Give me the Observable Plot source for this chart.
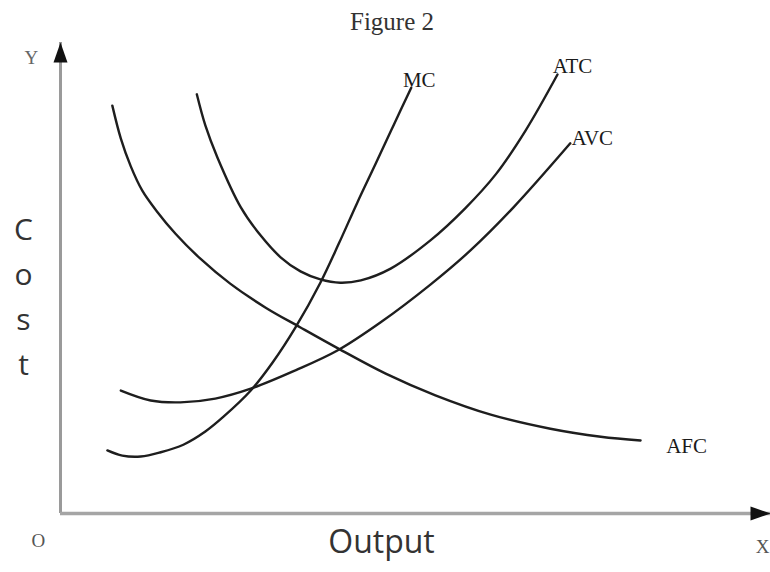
<!DOCTYPE html>
<html><head><meta charset="utf-8">
<script src="https://cdn.jsdelivr.net/npm/d3@7"></script>
<script src="https://cdn.jsdelivr.net/npm/@observablehq/plot@0.6"></script>
<style>
body{margin:0;background:#fff;}
#title{width:756px;height:32px;padding-top:4px;padding-left:14px;line-height:36px;text-align:center;font-family:'Liberation Serif','DejaVu Serif',serif;font-size:25px;color:#333;}
</style></head><body>
<div id="title">Figure 2</div>
<div id="chart"></div>
<script>
// Cost curves (output on x, cost on y)
const seriesNames = ["MC", "ATC", "AVC", "AFC"];
const mcX  = [6.6, 8.7, 11.3, 14.1, 17.3, 20.4, 23.0, 26.8, 29.9, 33.1, 36.6, 39.2, 41.8, 44.4, 46.9, 49.4];
const mcY  = [13.4, 12.3, 12.1, 13.0, 14.6, 17.4, 20.6, 26.1, 32.1, 39.5, 49.0, 57.3, 66.0, 74.3, 82.4, 90.4];
const atcX = [19.2, 20.4, 22.1, 25.4, 28.2, 31.0, 33.8, 36.6, 39.4, 42.3, 46.5, 52.1, 57.0, 61.3, 65.5, 70.0];
const atcY = [89.0, 82.4, 75.6, 65.0, 59.0, 54.4, 51.4, 49.7, 49.0, 49.5, 52.0, 58.0, 64.8, 72.0, 81.3, 93.2];
const avcX = [8.5, 12.7, 16.9, 21.8, 26.8, 33.1, 39.0, 45.1, 52.1, 57.7, 63.8, 71.8];
const avcY = [26.1, 24.0, 23.6, 24.4, 26.5, 30.4, 34.6, 40.6, 48.6, 55.8, 65.0, 78.6];
const afcX = [7.3, 8.5, 9.9, 11.5, 13.5, 16.2, 19.7, 23.9, 28.9, 33.8, 39.4, 45.8, 52.8, 60.6, 69.0, 76.1, 81.7];
const afcY = [86.6, 79.6, 73.7, 68.6, 64.3, 59.4, 54.1, 48.8, 43.7, 39.5, 34.8, 29.7, 25.1, 21.0, 18.0, 16.3, 15.5];
const axisLabels = {y: "Y", x: "X", origin: "O", xTitle: "Output", yTitle: "Cost"};

const seriesX = [mcX, atcX, avcX, afcX];
const seriesY = [mcY, atcY, avcY, afcY];
const curves = seriesNames.flatMap((name, i) =>
  seriesX[i].map((x, j) => ({name, x, y: seriesY[i][j]})));

const serif = "'Liberation Serif','DejaVu Serif',serif";
const sans = "'Open Sans','Noto Sans',sans-serif";

// filled arrow head, tip at the point, pointing up
const arrowHead = {
  draw(context) {
    context.moveTo(0, 0);
    context.lineTo(-7, 20);
    context.lineTo(7, 20);
    context.closePath();
  }
};

const labelOffsets = {MC: [8, -7], ATC: [15, -8], AVC: [22, -5], AFC: [46, 6]};

const chart = Plot.plot({
  width: 770,
  height: 536,
  marginLeft: 60,
  marginRight: 0,
  marginTop: 6,
  marginBottom: 59,
  x: {axis: null, domain: [0, 100]},
  y: {axis: null, domain: [0, 100]},
  style: {background: "white", overflow: "visible"},
  marks: [
    Plot.ruleX([0], {y1: 0, y2: 100, stroke: "#9a9a9a", strokeWidth: 3}),
    Plot.ruleY([0], {x1: 0, x2: 100, stroke: "#a5a5a5", strokeWidth: 3.5}),
    Plot.dot([{x: 0, y: 100}], {x: "x", y: "y", symbol: arrowHead, r: 5, fill: "#111", stroke: null}),
    Plot.dot([{x: 100, y: 0}], {x: "x", y: "y", symbol: arrowHead, r: 5, fill: "#111", stroke: null, rotate: 90}),
    Plot.line(curves, {x: "x", y: "y", z: "name", curve: "catmull-rom", stroke: "#1e1e1e", strokeWidth: 2.4}),
    ...seriesNames.map(name =>
      Plot.text(curves.filter(d => d.name === name), Plot.selectLast({
        x: "x", y: "y", text: "name",
        dx: labelOffsets[name][0], dy: labelOffsets[name][1],
        fontFamily: serif, fontSize: 21, fill: "#1a1a1a"
      }))),
    Plot.text([axisLabels.y], {frameAnchor: "top-left", text: d => d, dx: -36, dy: 8,
      fontFamily: serif, fontSize: 19, fill: "#666"}),
    Plot.text([axisLabels.origin], {frameAnchor: "bottom-left", text: d => d, dx: -29, dy: 33,
      fontFamily: serif, fontSize: 19, fill: "#555"}),
    Plot.text([axisLabels.x], {frameAnchor: "bottom-right", text: d => d, dx: -1, dy: 39, textAnchor: "end",
      fontFamily: serif, fontSize: 19, fill: "#555"}),
    Plot.text([axisLabels.xTitle], {frameAnchor: "bottom", text: d => d, dx: -34, dy: 39,
      fontFamily: sans, fontSize: 32, fill: "#333"}),
    Plot.text([axisLabels.yTitle], {frameAnchor: "left", text: d => d.split("").join("\n"),
      dx: -37, dy: 15, lineHeight: 1.5, textAnchor: "middle",
      fontFamily: sans, fontSize: 30, fill: "#333"})
  ]
});
document.getElementById("chart").appendChild(chart);
</script>
</body></html>
